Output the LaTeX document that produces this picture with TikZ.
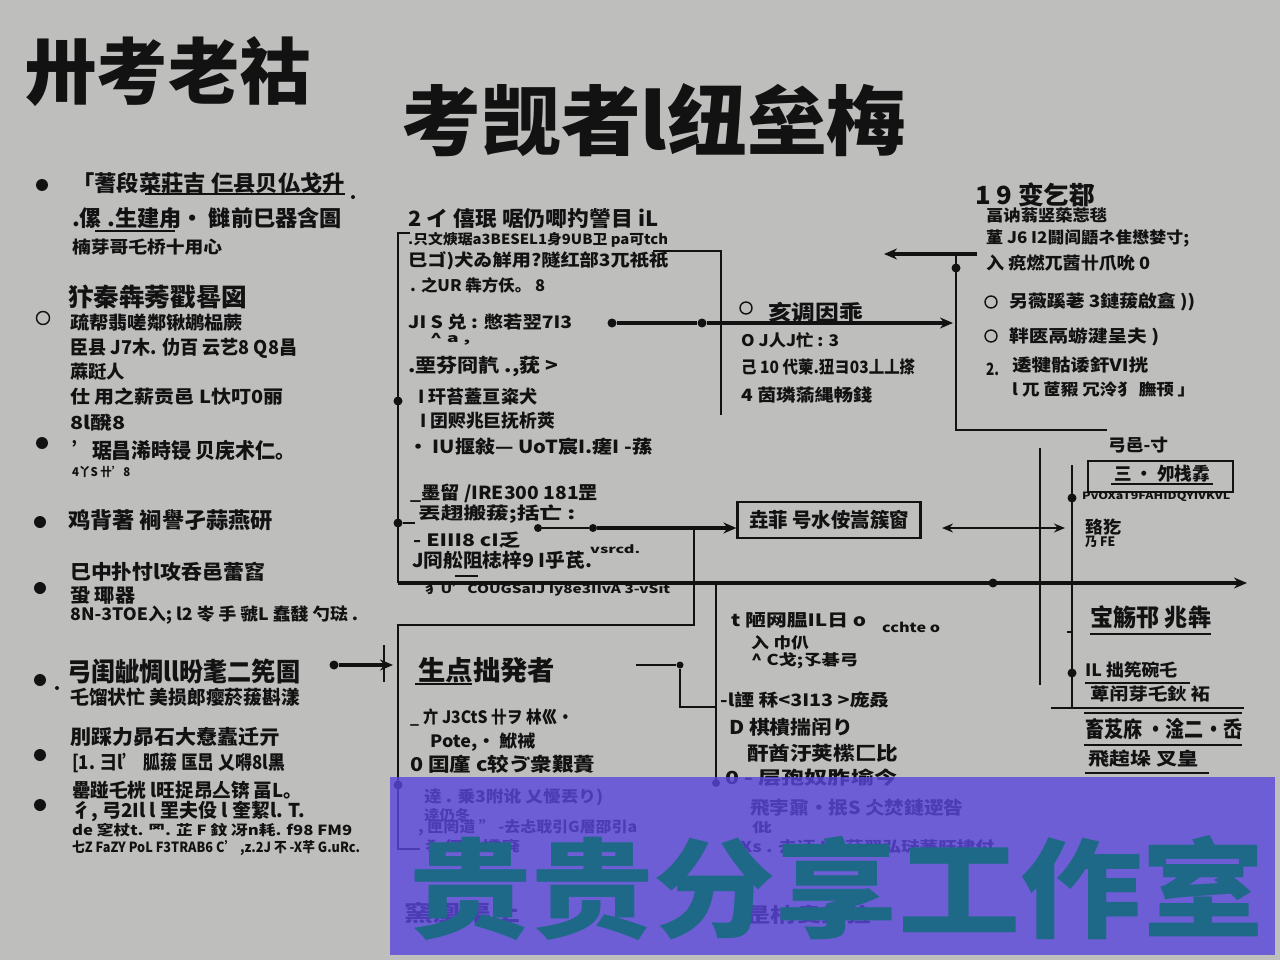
\documentclass[tikz,border=0pt]{standalone}
\usepackage{fontspec}
\setmainfont{Noto Sans CJK SC}
\usepackage{graphicx}
\usetikzlibrary{arrows.meta}
\definecolor{bgc}{RGB}{190,190,188}
\definecolor{ink}{RGB}{18,18,18}
\definecolor{wmp}{RGB}{90,71,221}
\definecolor{wmt}{RGB}{30,105,135}
\newsavebox\fitbox
\newlength\fitlen
\newcommand\fsz[1]{\fontsize{#1}{#1}\selectfont}
\newcommand\fitx[2]{\sbox\fitbox{#2}\setlength\fitlen{\wd\fitbox}\pgfmathsetmacro\fitsc{#1/\fitlen}\scalebox{\fitsc}[1]{\usebox\fitbox}}
\newcommand\tline[6]{\node[tx,font=\bfseries\fsz{#4}] (#1) at (#2,#3) {\fitx{#5}{#6}};}
\tikzset{
  tx/.style={anchor=west, inner sep=0pt, text=ink},
  ttl/.style={anchor=center, inner sep=0pt, text=ink},
  ln/.style={line width=2pt, draw=ink},
  thk/.style={line width=3.4pt, draw=ink},
  thn/.style={line width=1.3pt, draw=ink},
  dotn/.style={circle, fill=ink, inner sep=0pt, minimum size=9pt},
  sdot/.style={circle, fill=ink, inner sep=0pt, minimum size=4pt},
  bul/.style={circle, fill=ink, inner sep=0pt, minimum size=12pt},
  hol/.style={circle, draw=ink, line width=1.4pt, inner sep=0pt, minimum size=13pt},
  tip/.style={-{Stealth[length=13pt,width=11pt]}},
  boxn/.style={draw=ink, line width=2.2pt, inner sep=0pt, text=ink},
}
\begin{document}
\begin{tikzpicture}[x=1pt,y=-1pt]
\useasboundingbox (0,0) rectangle (1280,960);
\fill[bgc] (0,0) rectangle (1280,960);

% titles
\node[ttl, font=\bfseries\fsz{72}] (ttl1) at (168,72) {\fitx{285}{卅考老祜}};
\node[ttl, font=\bfseries\fsz{76}] (ttl2) at (654,120) {\fitx{505}{考觊者l纽垒梅}};

% left column
\node[bul] (bu1) at (42,185) {};
\node[hol] (bu2) at (43,318) {};
\node[bul] (bu3) at (42,443) {};
\node[bul] (bu4) at (40,522) {};
\node[bul] (bu5) at (40,588) {};
\node[bul] (bu6) at (40,680) {};
\node[sdot] (bu6b) at (57,688) {};
\node[bul] (bu7) at (40,755) {};
\node[bul] (bu8) at (40,805) {};

\tline{a1}{72}{183}{22}{273}{「蓍段菜莊吉 仨县贝仏戈升}
\tline{a2}{72}{218}{22}{270}{.傫 .生建甪· 雠前巳器含圄}
\tline{a3}{72}{247}{17}{150}{楠芽哥乇桥十用心}
\tline{a4}{68}{297}{25}{179}{犿秦犇莠戳晷図}
\tline{a5}{70}{323}{18}{173}{疏帮翡嗟鄰锹鹕榀蕨}
\tline{a6}{70}{348}{19}{227}{臣县 J7木. 仂百 云艺8 Q8昌}
\tline{a7}{70}{372}{18}{55}{蔴跹人}
\tline{a8}{70}{397}{18}{213}{仕 用之薪贡邑 L忕叮0丽}
\tline{a9}{70}{423}{18}{55}{8l醗8}
\tline{a10}{72}{450}{21}{223}{'琚昌浠時锓 贝庑术仁。}
\tline{a11}{72}{472}{12}{58}{4丫S 卄'8}
\tline{a12}{68}{520}{22}{205}{鸡背著 裥譽孑蒜燕研}
\tline{a13}{70}{572}{20}{195}{巳中扑忖l攻呑邑蕾窞}
\tline{a14}{70}{595}{19}{65}{蛩 瑘器}
\tline{a15}{70}{615}{17}{288}{8N-3TOE入; l2 岺 手 虢L 蠢馢 勺琺 .}
\tline{a16}{67}{671}{26}{233}{弓闺龇惆ll昐耄二筅圄}
\tline{a17}{70}{697}{19}{230}{乇馏状忙 美损郎瘿菸菝斟漾}
\tline{a18}{70}{737}{20}{210}{刖踩力昴石大憃蠹迁亓}
\tline{a19}{72}{763}{19}{213}{[1. 彐l' 胍菝 匤旵 乂嘚8l黑}
\tline{a20}{72}{790}{19}{230}{罍踫乇桄 l旺捉昂亼锛 畐L。}
\tline{a21}{72}{812}{19}{233}{彳, 弓2Il l 罜夫伇 l 奎絜l. T.}
\tline{a22}{72}{830}{14}{280}{de 窆杖t. 罓. 芷 F 鈫 冴n耗. f98 FM9}
\tline{a23}{72}{848}{14}{288}{七Z FaZY PoL F3TRAB6 C' ,z.2J 不 -X芊 G.uRc.}
\draw[thn] (145,194) -- (345,194);
\node[sdot] (a1d) at (353,197) {};
\draw[thn] (95,231) -- (175,231);

% left arrow into lower box
\node[dotn] (lad) at (334,665) {};
\coordinate (lae) at (393,665);
\draw[thk,tip] (lad) -- (lae);
\coordinate (lbt) at (384,645);
\coordinate (lbb) at (384,682);
\draw[line width=2.5pt, draw=ink] (lbt) -- (lbb);

% center upper block text
\tline{c1}{408}{219}{21}{250}{2 イ 僖珉 啹仍唧扚謍目 iL}
\tline{c2}{408}{240}{14}{260}{.只文焿琚a3BESEL1身9UB卫 pa可tch}
\tline{c3}{408}{261}{17}{260}{巳ゴ)犬ゐ觧用?隧红部3兀祇祇}
\tline{c4}{410}{285}{16}{135}{. 之UR 犇方仸。 8}
\tline{c5}{408}{322}{17}{164}{JI S 兑 : 憋若翌7I3}
\tline{c6}{430}{339}{12}{40}{\^{} a ,}
\tline{c7}{408}{367}{19}{150}{.垔芬冏靔 .,莸 >}
\tline{c8}{418}{397}{18}{119}{I 玕苔蓋亘粢犬}
\tline{c9}{420}{421}{18}{135}{I 囝赆兆巨抚析莢}
\tline{c10}{408}{447}{18}{244}{· IU揠敍— UoT宸I.瘥I -蓀}
\tline{c11}{410}{493}{18}{188}{\_墨留 /IRE300 181罡}
\tline{c12}{418}{514}{17}{157}{丟趐搬菝;括亡 :}
\tline{c13}{413}{540}{17}{107}{- EIII8 cI乏}
\tline{c14}{590}{549}{11}{50}{vsrcd.}
\tline{c15}{412}{560}{19}{180}{J冏舩阻梽梓9 I乎芪.}
\tline{c16}{425}{590}{12}{245}{犭U'COUGSaIJ Iy8e3IIvA 3-vSit}
\draw[thn] (455,576) -- (478,576);

% left vertical frame lines
\coordinate (lv0) at (410,233);
\coordinate (lv1) at (398,233);
\coordinate (lv2) at (398,583);
\draw[ln] (lv0) -- (lv1) -- (lv2);
\node[dotn] (lvd1) at (398,401) {};
\node[dotn] (lvd2) at (398,523) {};
\coordinate (lvd2e) at (415,523);
\draw[thn] (lvd2) -- (lvd2e);

% thin bracket right of block
\coordinate (tb0) at (653,251);
\coordinate (tb1) at (721,251);
\coordinate (tb2) at (721,415);
\draw[line width=1.6pt, draw=ink] (tb0) -- (tb1) -- (tb2);

% arrow y=323
\node[dotn] (h1a) at (612,323) {};
\node[dotn] (h1b) at (702,323) {};
\coordinate (h1e) at (953,323);
\draw[thk] (h1a) -- (h1b);
\draw[thk,tip] (h1b) -- (h1e);

% middle text block
\node[hol, minimum size=12pt] (cc1) at (746,308) {};
\tline{c17}{768}{312}{21}{95}{亥调因乖}
\tline{c18}{741}{340}{16}{98}{O J人J忙 : 3}
\tline{c19}{741}{367}{17}{174}{己 10 代萰.狃ヨ03丄丄搽}
\tline{c20}{741}{395}{17}{131}{4 茵璘蕍縄畅錢}

% right top block
\tline{r1}{975}{195}{25}{120}{1 9 变乞鄀}
\tline{r2}{986}{215}{16}{121}{畐讷蓊竖蒅莣毯}
\tline{r3}{986}{238}{16}{203}{蓳 J6 I2鬪闾鼯ネ隹懋婪寸;}
\tline{r4}{986}{263}{17}{164}{入 痥燃兀蒏卄爪吮 0}
\node[hol, minimum size=12pt] (rc1) at (991,302) {};
\tline{r5}{1009}{302}{17}{186}{另薇蹊荖 3鏈菝啟盫 ))}
\node[hol, minimum size=12pt] (rc2) at (991,336) {};
\tline{r6}{1009}{337}{17}{150}{靽匧鬲蝣湕呈夫 )}
\tline{r7}{986}{369}{17}{13}{2.}
\tline{r7b}{1012}{365}{17}{136}{逶犍骷诿釬VI挄}
\tline{r8}{1012}{389}{16}{183}{l 兀 茝豭 冗泠犭 膴顸 」}

\coordinate (ra0) at (977,254);
\coordinate (ra1) at (884,254);
\draw[thk,tip] (ra0) -- (ra1);
\coordinate (rv0) at (956,254);
\coordinate (rv1) at (956,430);
\coordinate (rv2) at (1107,430);
\draw[line width=1.8pt, draw=ink] (rv0) -- (rv1) -- (rv2);
\node[dotn] (rvd) at (956,268) {};

% central box and arrows at y=528
\node[boxn, minimum width=183pt, minimum height=36pt, font=\bfseries\fsz{20}] (cbox) at (829,520) {\fitx{160}{垚菲 号水侒嵩簇窗}};
\node[dotn, minimum size=8pt] (ha1) at (538,528) {};
\node[dotn, minimum size=8pt] (ha2) at (593,528) {};
\draw[thn] (ha1) -- (ha2);
\draw[thk,tip] (ha2) -- (cbox.west |- ha2);
\coordinate (dbl0) at (942,528);
\coordinate (dbl1) at (1065,528);
\draw[line width=2.4pt, draw=ink, {Stealth[length=11pt,width=9pt]}-{Stealth[length=11pt,width=9pt]}] (dbl0) -- (dbl1);

% long horizontal arrow
\coordinate (lh0) at (398,583);
\coordinate (lh1) at (1247,583);
\draw[thk,tip] (lh0) -- (lh1);
\node[dotn] (lhd) at (993,583) {};

% inner box lines
\coordinate (ib0) at (694,528);
\coordinate (ib1) at (694,625);
\coordinate (ib2) at (398,625);
\coordinate (ib3) at (398,849);
\coordinate (ib4) at (420,849);
\draw[ln] (ib0) -- (ib1) -- (ib2) -- (ib3) -- (ib4);
\node[dotn] (ibd) at (398,785) {};

% lower-left box text
\tline{b0}{418}{670}{27}{137}{生点拙発者}
\draw[ln] (415,684) -- (472,684);
\tline{b1}{410}{718}{17}{163}{\_ 亣 J3CtS 卄ヲ 林巛·}
\tline{b2}{430}{742}{17}{105}{Pote,· 鮲祴}
\tline{b3}{410}{764}{19}{185}{0 囯廑 c较ゔ衆艱蕢}
\tline{b4}{424}{797}{16}{179}{逹 . 乗3附讹 乂懮丟り)}
\tline{b5}{424}{815}{14}{46}{逹仍冬}
\tline{b6}{418}{828}{15}{219}{, 匣罔逪 " -去忐聀引G層邵引a}
\tline{b7}{425}{846}{14}{95}{犭仞巛攉廃}
\tline{b8}{404}{913}{22}{116}{窯凰渠土}

% connector to middle-lower column
\coordinate (mc0) at (636,665);
\node[dotn, minimum size=7pt] (mcd) at (680,665) {};
\coordinate (mc2) at (680,707);
\coordinate (mc3) at (716,707);
\draw[thn] (mc0) -- (mcd);
\draw[line width=1.8pt, draw=ink] (mcd) -- (mc2) -- (mc3);
\coordinate (mv0) at (716,583);
\node[dotn, minimum size=8pt] (mvd) at (716,783) {};
\draw[ln] (mv0) -- (mvd);

% middle lower text
\tline{m1}{731}{620}{17}{135}{t 陋网腽IL日 o}
\tline{m2}{882}{627}{13}{58}{cchte o}
\tline{m3}{751}{643}{15}{58}{入 巾仈}
\tline{m4}{751}{661}{15}{107}{\^{} C戈;孓碁弓}
\tline{m5}{720}{700}{17}{169}{-l諲 秝<3I13 >庞叒}
\tline{m6}{729}{727}{19}{124}{D 棋樻揣闬り}
\tline{m7}{747}{753}{19}{151}{酐酋汙荚橴匚比}
\tline{m8}{725}{778}{18}{172}{0 - 层孢奴胙堬今}
\tline{m9}{750}{808}{18}{213}{飛孛鼐·抿S 仌焚鏈遻咎}
\tline{m10}{752}{828}{13}{20}{仳}
\tline{m11}{740}{847}{15}{254}{Xs . 去迋 I啦萜翆弘琺蒹旺捸付}
\tline{m12}{745}{915}{20}{127}{昰枘夌鈳猃}

% right middle block
\coordinate (tv0) at (1040,448);
\coordinate (tv1) at (1040,685);
\draw[thn] (tv0) -- (tv1);
\coordinate (kv0) at (1072,465);
\coordinate (kv1) at (1072,708);
\draw[line width=2.6pt, draw=ink] (kv0) -- (kv1);
\node[dotn] (kvd1) at (1072,498) {};
\node[dotn] (kvd2) at (1072,673) {};
\draw[line width=2pt, draw=ink] (1067,632) -- (1072,632);
\coordinate (kh0) at (1051,708);
\coordinate (kh1) at (1244,708);
\draw[line width=1.8pt, draw=ink] (kh0) -- (kh1);

\tline{r9}{1108}{445}{17}{60}{弓邑-寸}
\node[draw=ink, line width=2pt, minimum width=145pt, minimum height=31pt, inner sep=0pt] (rbox) at (1160.5,476.5) {};
\node[ttl, font=\bfseries\fsz{18}] (rboxt) at (1162,474) {\fitx{96}{三 · 夘栈掱}};
\draw[thn] (1111,484) -- (1213,484);
\tline{r10}{1082}{497}{10}{148}{PvOXaT9FAHIDQYIVKVL}
\tline{r11}{1085}{527}{17}{36}{臵犵}
\tline{r12}{1085}{542}{13}{30}{乃 FE}
\tline{r13}{1090}{617}{24}{121}{宝觞邗 兆犇}
\draw[ln] (1090,634) -- (1211,634);
\tline{r14}{1085}{670}{17}{92}{IL 拙筅碗乇}
\draw[thn] (1085,683) -- (1190,683);
\tline{r15}{1090}{694}{17}{120}{萆闬芽乇鈥 袥}
\draw[thn] (1084,713) -- (1242,713);
\tline{r16}{1085}{729}{22}{157}{畜芨庥 ·淦二·岙}
\draw[thn] (1084,745) -- (1242,745);
\tline{r17}{1088}{759}{18}{110}{飛趤垛 叉皇}
\draw[thn] (1085,773) -- (1209,773);

% watermark
\fill[wmp, fill opacity=0.8] (390,777) rectangle (1275,955);
\node[ttl, text=wmt, font=\bfseries\fsz{108}] (wm) at (837,888) {\scalebox{1.13}[1]{贵贵分享工作室}};
\end{tikzpicture}
\end{document}
